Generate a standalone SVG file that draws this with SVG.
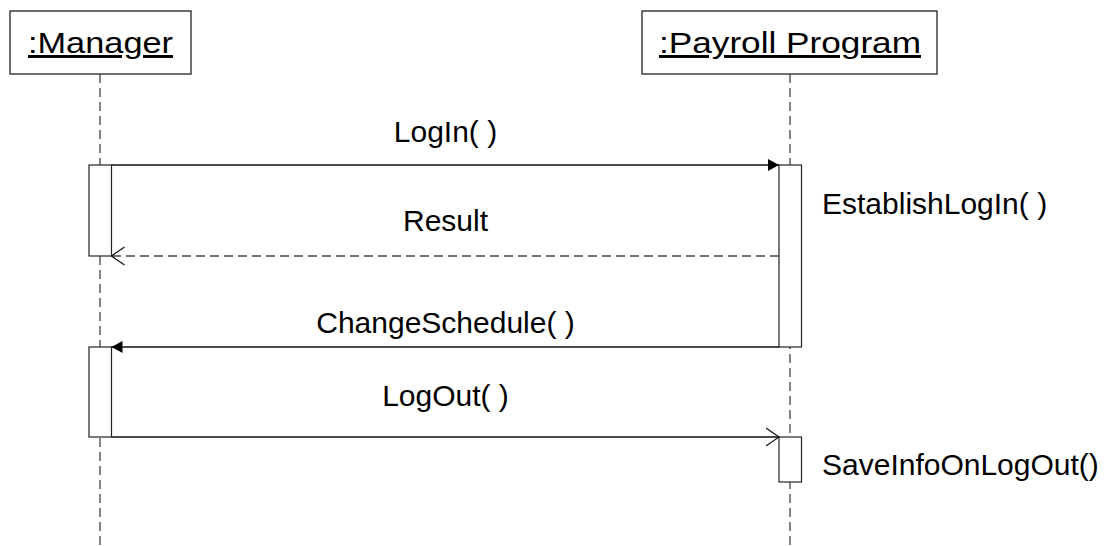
<svg xmlns="http://www.w3.org/2000/svg" width="1106" height="546" viewBox="0 0 1106 546">
<style>
text{font-family:"Liberation Sans",Arial,sans-serif;fill:#000;}
.hdr{font-size:29.5px;text-decoration:underline;}
.lbl{font-size:30px;}
.box{fill:#fff;stroke:#222;stroke-width:1.3;}
.life{stroke:#444;stroke-width:1.3;stroke-dasharray:9 5;fill:none;}
.act{fill:#fff;stroke:#222;stroke-width:1.2;}
.msg{stroke:#111;stroke-width:1.3;fill:none;}
.ret{stroke:#444;stroke-width:1.3;stroke-dasharray:9 5;fill:none;}
</style>
<defs>
<marker id="filled" markerWidth="12" markerHeight="14" refX="11" refY="7" orient="auto" markerUnits="userSpaceOnUse">
<path d="M0,1 L11,7 L0,13 Z" fill="#000"/>
</marker>
<marker id="open" markerWidth="14" markerHeight="20" refX="13" refY="10" orient="auto" markerUnits="userSpaceOnUse">
<path d="M0,1 L13,10 L0,19" fill="none" stroke="#111" stroke-width="1.2"/>
</marker>
</defs>
<rect width="1106" height="546" fill="#fff"/>
<g id="manager">
<line class="life" x1="100" y1="74" x2="100" y2="546"/>
<rect class="box" x="10" y="11" width="181" height="63"/>
<text class="hdr" x="28" y="53" textLength="145" lengthAdjust="spacingAndGlyphs">:Manager</text>
<rect class="act" x="89" y="165" width="22.5" height="91"/>
<rect class="act" x="89" y="347" width="22.5" height="90"/>
</g>
<g id="payroll">
<line class="life" x1="790" y1="74" x2="790" y2="546"/>
<rect class="box" x="642" y="11" width="295" height="63"/>
<text class="hdr" x="659" y="53" textLength="262" lengthAdjust="spacingAndGlyphs">:Payroll Program</text>
<rect class="act" x="779" y="165" width="22.5" height="182"/>
<rect class="act" x="779" y="437" width="22.5" height="45"/>
<text class="lbl" x="822" y="214">EstablishLogIn( )</text>
<text class="lbl" x="822" y="475">SaveInfoOnLogOut()</text>
</g>
<g id="connectors">
<line class="msg" x1="111.5" y1="165" x2="779" y2="165" marker-end="url(#filled)"/>
<text class="lbl" x="445.5" y="142" text-anchor="middle">LogIn( )</text>
<line class="ret" x1="779" y1="256" x2="111.5" y2="256" marker-end="url(#open)"/>
<text class="lbl" x="445.5" y="231" text-anchor="middle">Result</text>
<line class="msg" x1="779" y1="347" x2="111.5" y2="347" marker-end="url(#filled)"/>
<text class="lbl" x="445.5" y="333" text-anchor="middle">ChangeSchedule( )</text>
<line class="msg" x1="111.5" y1="437" x2="779" y2="437" marker-end="url(#open)"/>
<text class="lbl" x="445.5" y="406" text-anchor="middle">LogOut( )</text>
</g>
</svg>
